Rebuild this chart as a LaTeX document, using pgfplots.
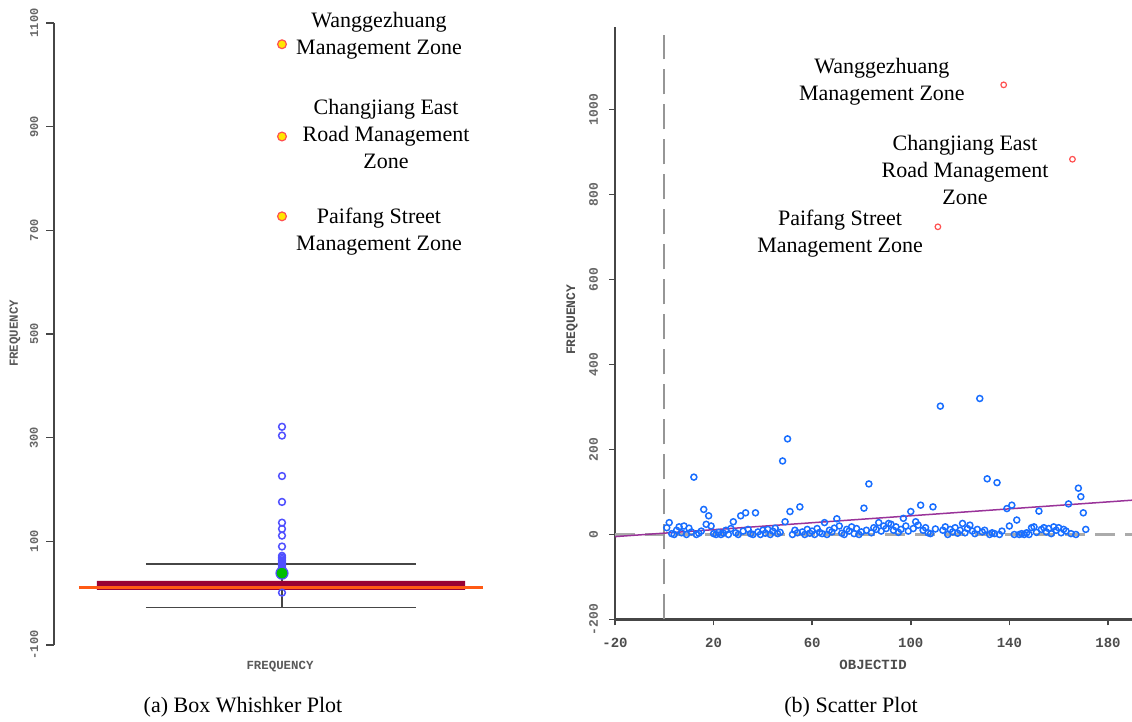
\documentclass[border=0pt]{standalone}
\usepackage{fontspec}
\setmainfont{Liberation Serif}
\newfontfamily\monof{Liberation Mono}
\usepackage{pgfplots}
\pgfplotsset{compat=1.18}
\definecolor{axgray}{RGB}{70,70,70}
\definecolor{boxred}{RGB}{153,0,51}
\definecolor{medorange}{RGB}{255,90,20}
\definecolor{lblue}{RGB}{80,80,255}
\definecolor{sblue}{RGB}{25,110,255}
\definecolor{spurple}{RGB}{153,51,153}
\definecolor{sred}{RGB}{255,80,80}
\definecolor{oyellow}{RGB}{255,230,0}
\definecolor{ogreen}{RGB}{0,190,0}
\definecolor{dgray}{RGB}{150,150,150}
\begin{document}
\begin{tikzpicture}
\useasboundingbox (0,0) rectangle (566pt,361pt);
% ---------------- left: box whisker plot ----------------
\begin{axis}[
  at={(27pt,38.5pt)}, anchor=south west, scale only axis,
  width=223pt, height=311pt,
  xmin=54, xmax=500, ymin=-100, ymax=1100,
  axis x line=none, axis y line*=left,
  axis line style={-, draw=axgray, line width=0.7pt},
  ytick={-100,100,300,500,700,900,1100},
  yticklabels={-100,100,300,500,700,900,1100},
  tick align=outside, major tick length=3.8pt,
  tick style={draw=axgray, line width=0.7pt},
  yticklabel style={xshift=-0.6pt, rotate=90, anchor=south, font=\monof\bfseries\fontsize{6}{6}\selectfont, text=black!60},
  clip=false,
]
\addplot[draw=none, fill=boxred] coordinates {(97,6.4) (465,6.4) (465,23.8) (97,23.8) (97,6.4)};
\addplot[medorange, line width=1.4pt] coordinates {(79,10.2) (483,10.2)};
\addplot[axgray, line width=0.8pt] coordinates {(146,56) (416,56)};
\addplot[axgray, line width=0.8pt] coordinates {(146,-28) (416,-28)};
\addplot[axgray, line width=0.8pt] coordinates {(282,-28) (282,6.4)};
\addplot[axgray, line width=0.8pt] coordinates {(282,23.8) (282,56)};
\addplot[only marks, mark=o, mark size=1.7pt, lblue, line width=0.75pt] coordinates {
(282,321) (282,304) (282,226) (282,176) (282,136) (282,124) (282,111) (282,90)
(282,72) (282,69) (282,66) (282,63) (282,60) (282,58) (282,55) (282,53)
(282,50) (282,48) (282,45) (282,43) (282,41) (282,1)};
\addplot[only marks, mark=*, mark size=3pt, draw=lblue, fill=ogreen, line width=0.6pt] coordinates {(282,38.6)};
\addplot[only marks, mark=*, mark size=2.2pt, draw=sred, fill=oyellow, line width=0.6pt] coordinates {(282,1059) (282,881) (282,727)};
\node[align=center, font=\fontsize{11}{13.5}\selectfont] at (axis cs:379,1075) {Wanggezhuang\\Management Zone};
\node[align=center, font=\fontsize{11}{13.5}\selectfont] at (axis cs:386,886) {Changjiang East\\Road Management\\Zone};
\node[align=center, font=\fontsize{11}{13.5}\selectfont] at (axis cs:379,697) {Paifang Street\\Management Zone};
\node[font=\monof\bfseries\fontsize{6.2}{6.2}\selectfont, text=black!65] at (axis cs:280,-142) {FREQUENCY};
\node[rotate=90, font=\monof\bfseries\fontsize{6.2}{6.2}\selectfont, text=black!65] at (axis cs:15,501) {FREQUENCY};
\end{axis}
% ---------------- right: scatter plot ----------------
\begin{axis}[
  at={(307.5pt,51.25pt)}, anchor=south west, scale only axis,
  width=258.8pt, height=296pt,
  xmin=-20, xmax=190, ymin=-200, ymax=1193,
  axis x line*=bottom, axis y line*=left,
  axis line style={-, draw=axgray, line width=1.1pt},
  xtick={-20,20,60,100,140,180},
  xticklabels={-20,20,60,100,140,180},
  ytick={-200,0,200,400,600,800,1000},
  yticklabels={-200,0,200,400,600,800,1000},
  tick align=outside, major tick length=3pt,
  tick style={draw=axgray, line width=0.8pt},
  xticklabel style={yshift=-3pt, font=\monof\bfseries\fontsize{7}{7}\selectfont, text=black!70},
  yticklabel style={xshift=-2pt, rotate=90, anchor=south, font=\monof\bfseries\fontsize{6.5}{6.5}\selectfont, text=black!60},
  clip=false,
]
\addplot[dgray!80, line width=1.1pt, dash pattern=on 10pt off 5pt] coordinates {(-20,0) (190,0)};
\addplot[dgray, line width=1pt, dash pattern=on 12.5pt off 5pt] coordinates {(0,-200) (0,1175)};
\addplot[only marks, mark=o, mark size=1.5pt, sblue, line width=0.75pt] table {
x y
1 16
2 28
3 2
4 0
5 10
6 18
7 4
8 20
9 0
10 15
11 6
12 135
13 0
14 3
15 8
16 59
17 24
18 44
19 20
20 2
21 0
22 5
23 0
24 3
25 10
26 0
27 14
28 30
29 4
30 0
31 44
32 8
33 51
34 12
35 2
36 0
37 51
38 6
39 0
40 10
41 3
42 12
43 0
44 8
45 15
46 2
47 5
48 173
49 30
50 225
51 54
52 0
53 10
54 4
55 65
56 6
57 0
58 12
59 3
60 8
61 0
62 14
63 5
64 2
65 28
66 0
67 10
68 6
69 15
70 37
71 20
72 3
73 0
74 12
75 8
76 18
77 2
78 14
79 0
80 6
81 62
82 10
83 119
84 4
85 16
86 12
87 28
88 8
89 20
90 14
91 26
92 24
93 10
94 18
95 5
96 12
97 38
98 20
99 8
100 54
101 14
102 30
103 22
104 69
105 10
106 16
107 4
108 2
109 65
110 13
112 302
113 10
114 18
115 0
116 12
117 6
118 16
119 3
120 10
121 26
122 4
123 14
124 22
125 8
126 2
127 12
128 320
129 6
130 10
131 131
132 0
133 4
134 2
135 122
136 0
137 8
139 61
140 20
141 69
142 0
143 34
144 0
145 2
146 0
147 4
148 0
149 16
150 18
151 5
152 55
153 12
154 16
155 6
156 14
157 2
158 18
159 10
160 16
161 4
162 12
163 8
164 72
165 2
167 0
168 109
169 89
170 51
171 12
};
\addplot[spurple, line width=0.75pt] coordinates {(-20,-5) (190,80.8)};
\addplot[only marks, mark=o, mark size=1.4pt, sred, line width=0.6pt] coordinates {(137.7,1058) (165.6,883) (111,724)};
\node[align=center, font=\fontsize{11}{13.5}\selectfont] at (axis cs:88.3,1066) {Wanggezhuang\\Management Zone};
\node[align=center, font=\fontsize{11}{13.5}\selectfont] at (axis cs:122,858) {Changjiang East\\Road Management\\Zone};
\node[align=center, font=\fontsize{11}{13.5}\selectfont] at (axis cs:71.3,708) {Paifang Street\\Management Zone};
\node[font=\monof\bfseries\fontsize{7}{7}\selectfont, text=black!70] at (axis cs:84.7,-307) {OBJECTID};
\node[rotate=90, font=\monof\bfseries\fontsize{6.5}{6.5}\selectfont, text=black!70] at (axis cs:-37.4,505) {FREQUENCY};
\end{axis}
\node[font=\fontsize{11}{13.5}\selectfont] at (121.5pt,7.5pt) {(a) Box Whishker Plot};
\node[font=\fontsize{11}{13.5}\selectfont] at (425.5pt,7.5pt) {(b) Scatter Plot};
\end{tikzpicture}
\end{document}
